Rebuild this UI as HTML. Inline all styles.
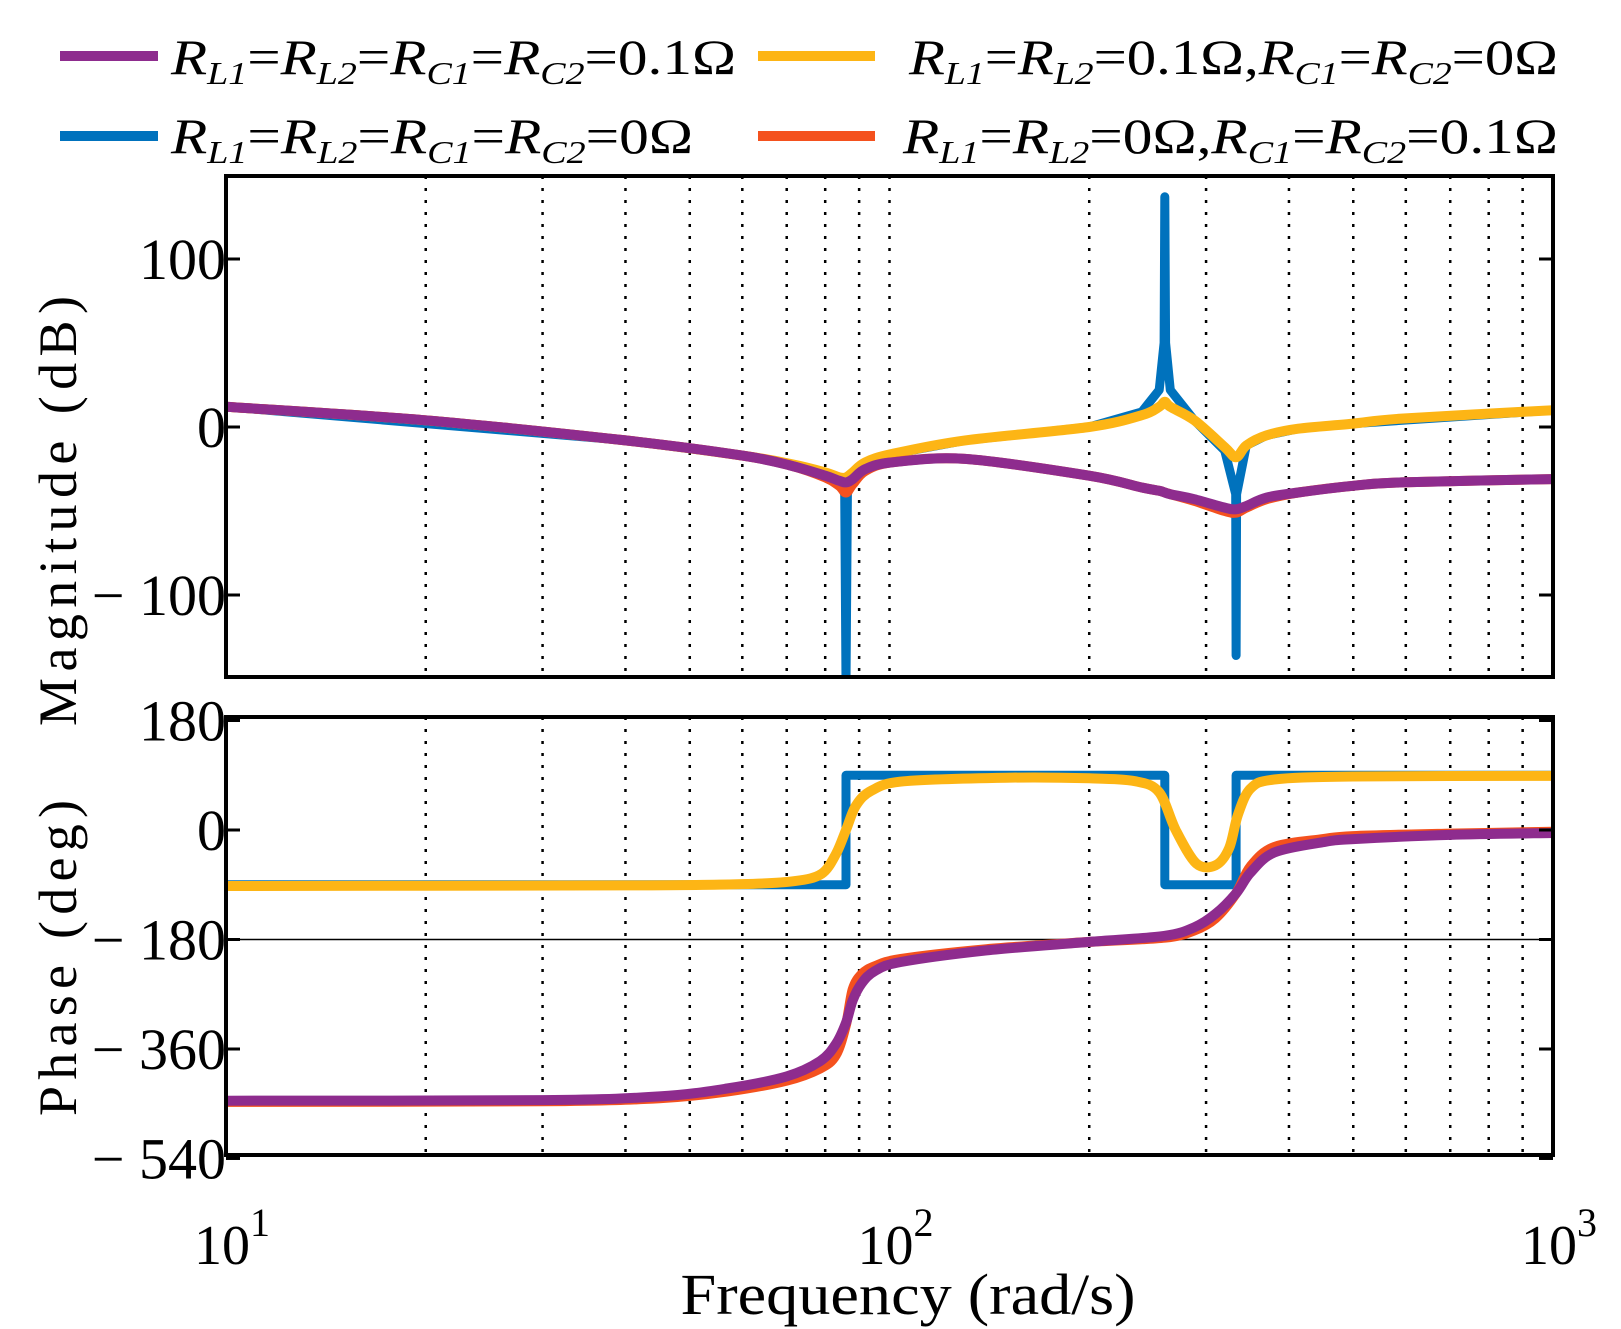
<!DOCTYPE html>
<html><head><meta charset="utf-8">
<style>
html,body{margin:0;padding:0;background:#fff;}
svg{display:block;font-family:"Liberation Serif",serif;}
</style></head>
<body>
<svg id="chart" width="1621" height="1329" viewBox="0 0 1621 1329" xmlns="http://www.w3.org/2000/svg">
<defs>
<clipPath id="clipMag"><rect x="226" y="176" width="1327" height="501"/></clipPath>
<clipPath id="clipPh"><rect x="226" y="717" width="1327" height="438"/></clipPath>
</defs>
<g id="legend" font-size="50">
  <g>
    <line x1="60" y1="56" x2="158" y2="56" stroke="#8e2c8e" stroke-width="10"/>
    <text x="171" y="74" textLength="565" lengthAdjust="spacingAndGlyphs"><tspan font-style="italic">R</tspan><tspan font-size="32" font-style="italic" dy="10">L1</tspan><tspan dy="-10">=</tspan><tspan font-style="italic">R</tspan><tspan font-size="32" font-style="italic" dy="10">L2</tspan><tspan dy="-10">=</tspan><tspan font-style="italic">R</tspan><tspan font-size="32" font-style="italic" dy="10">C1</tspan><tspan dy="-10">=</tspan><tspan font-style="italic">R</tspan><tspan font-size="32" font-style="italic" dy="10">C2</tspan><tspan dy="-10">=0.1Ω</tspan></text>
  </g>
  <g>
    <line x1="60" y1="136" x2="158" y2="136" stroke="#0072bd" stroke-width="10"/>
    <text x="171" y="153" textLength="522" lengthAdjust="spacingAndGlyphs"><tspan font-style="italic">R</tspan><tspan font-size="32" font-style="italic" dy="10">L1</tspan><tspan dy="-10">=</tspan><tspan font-style="italic">R</tspan><tspan font-size="32" font-style="italic" dy="10">L2</tspan><tspan dy="-10">=</tspan><tspan font-style="italic">R</tspan><tspan font-size="32" font-style="italic" dy="10">C1</tspan><tspan dy="-10">=</tspan><tspan font-style="italic">R</tspan><tspan font-size="32" font-style="italic" dy="10">C2</tspan><tspan dy="-10">=0Ω</tspan></text>
  </g>
  <g>
    <line x1="758" y1="56" x2="875" y2="56" stroke="#fdb515" stroke-width="10"/>
    <text x="909" y="74" textLength="649" lengthAdjust="spacingAndGlyphs"><tspan font-style="italic">R</tspan><tspan font-size="32" font-style="italic" dy="10">L1</tspan><tspan dy="-10">=</tspan><tspan font-style="italic">R</tspan><tspan font-size="32" font-style="italic" dy="10">L2</tspan><tspan dy="-10">=0.1Ω,</tspan><tspan font-style="italic">R</tspan><tspan font-size="32" font-style="italic" dy="10">C1</tspan><tspan dy="-10">=</tspan><tspan font-style="italic">R</tspan><tspan font-size="32" font-style="italic" dy="10">C2</tspan><tspan dy="-10">=0Ω</tspan></text>
  </g>
  <g>
    <line x1="758" y1="136" x2="875" y2="136" stroke="#f4511e" stroke-width="10"/>
    <text x="903" y="153" textLength="655" lengthAdjust="spacingAndGlyphs"><tspan font-style="italic">R</tspan><tspan font-size="32" font-style="italic" dy="10">L1</tspan><tspan dy="-10">=</tspan><tspan font-style="italic">R</tspan><tspan font-size="32" font-style="italic" dy="10">L2</tspan><tspan dy="-10">=0Ω,</tspan><tspan font-style="italic">R</tspan><tspan font-size="32" font-style="italic" dy="10">C1</tspan><tspan dy="-10">=</tspan><tspan font-style="italic">R</tspan><tspan font-size="32" font-style="italic" dy="10">C2</tspan><tspan dy="-10">=0.1Ω</tspan></text>
  </g>
</g>
<g id="grid"></g>
<g id="magSeries" clip-path="url(#clipMag)"></g>
<g id="phSeries" clip-path="url(#clipPh)"></g>
<g id="axes"></g>
<text transform="translate(76,511) rotate(-90)" text-anchor="middle" font-size="54" textLength="430" lengthAdjust="spacing">Magnitude (dB)</text>
<text transform="translate(76,958) rotate(-90)" text-anchor="middle" font-size="54" textLength="316" lengthAdjust="spacing">Phase (deg)</text>
<text x="908" y="1314" text-anchor="middle" font-size="58" textLength="455" lengthAdjust="spacingAndGlyphs">Frequency  (rad/s)</text>
<script>
const freqMag = [10, 20, 40, 60, 71, 80, 84, 86, 88, 92, 101, 130, 200, 240, 255, 260, 265, 288, 320, 333, 345, 370, 413, 500, 591, 1000];
const magPurple = [12, 4, -8, -17, -23, -29, -32, -33, -31, -25, -21, -19, -29, -36, -38, -39, -40, -43, -48, -49, -47, -42, -39, -35, -33, -31];
const magOrange = [12, 4, -8, -17, -23, -30, -35, -39, -34, -26, -21, -19, -29, -36, -38, -39, -40, -44, -50, -51, -48, -43, -39, -35, -33, -31];
const magYellow = [12, 4, -8, -17, -22, -27, -30, -30, -27, -21, -16, -8, 0, 7, 12, 15, 12, 4, -12, -18, -11, -5, -1, 2, 5, 10];
const freqBlue = [10, 40, 60, 71, 80, 84, 85.6, 86, 86.4, 88, 92, 101, 130, 200, 240, 255, 259.3, 260, 260.7, 265, 288, 320, 332.5, 333, 333.5, 345, 370, 413, 500, 1000];
const magBlue = [12, -8, -17, -22, -27, -31, -40, -152, -40, -27, -21, -16, -8, 0, 9, 22, 50, 137, 50, 22, 4, -14, -40, -136, -40, -11, -5, -1, 2, 10];

const freqPh = [10, 30, 45, 56.9, 70, 78.6, 83, 86, 88, 90.8, 95, 104, 140, 200, 260, 288, 310, 333, 350, 380, 450, 500, 700, 1000];
const phPurple = [-445, -444, -438, -425, -405, -380, -352, -317, -280, -252, -232, -217, -198, -184, -174, -160, -138, -104, -70, -37, -20, -15, -8, -5];
const phOrange = [-447, -446, -441, -430, -412, -392, -370, -320, -262, -237, -224, -212, -196, -184, -177, -165, -145, -104, -60, -28, -15, -10, -6, -3];
const freqYel = [10, 40, 60, 72, 79, 83, 86, 89, 94, 105, 150, 200, 235, 255, 270, 290, 310, 325, 335, 350, 380, 500, 1000];
const phYellow = [-92, -91, -89, -84, -72, -40, 0, 40, 65, 80, 86, 85, 80, 62, 0, -55, -58, -30, 25, 68, 83, 88, 89];
const freqStep = [10, 86, 86, 260, 260, 333, 333, 1000];
const phBlue = [-90, -90, 90, 90, -90, -90, 90, 90];

const magTicks = [100, 0, -100];
const magTickLabels = ["100", "0", "− 100"];
const phTicks = [180, 0, -180, -360, -540];
const phTickLabels = ["180", "0", "− 180", "− 360", "− 540"];
const xDecades = [1, 2, 3];

const NS = "http://www.w3.org/2000/svg";
const X0 = 226, X1 = 1553, DEC = (X1 - X0) / 2;
function xs(f) { return X0 + (Math.log10(f) - 1) * DEC; }
function ym(db) { return 427 - db * 1.68; }
function yp(p) { return 830 - p * 0.6083; }
function mk(tag, attrs, parent) {
  const e = document.createElementNS(NS, tag);
  for (const k in attrs) e.setAttribute(k, attrs[k]);
  parent.appendChild(e);
  return e;
}
const grid = document.getElementById('grid');
const axes = document.getElementById('axes');
const panels = [[176, 677], [717, 1155]];
for (let d = 1; d <= 2; d++) {
  for (let m = 2; m <= 10; m++) {
    const x = xs(m * Math.pow(10, d));
    if (m === 10 && d === 2) continue;
    for (const [t, b] of panels) {
      const l = mk('line', {x1: x, x2: x, y1: t, y2: b, stroke: '#000', 'stroke-width': 2.5, 'stroke-dasharray': '3 9'}, grid);
      
      
    }
  }
}
const hg = mk('line', {x1: X0, x2: X1, y1: yp(-180), y2: yp(-180), stroke: '#000', 'stroke-width': 1.5}, grid);



function smoothPath(P) {
  let d = 'M' + P[0][0].toFixed(1) + ',' + P[0][1].toFixed(1);
  for (let i = 0; i < P.length - 1; i++) {
    const p0 = P[Math.max(0, i - 1)], p1 = P[i], p2 = P[i + 1], p3 = P[Math.min(P.length - 1, i + 2)];
    const t = 0.16;
    let c1x = p1[0] + (p2[0] - p0[0]) * t, c1y = p1[1] + (p2[1] - p0[1]) * t;
    let c2x = p2[0] - (p3[0] - p1[0]) * t, c2y = p2[1] - (p3[1] - p1[1]) * t;
    c1x = Math.min(Math.max(c1x, p1[0]), p2[0]);
    c2x = Math.min(Math.max(c2x, p1[0]), p2[0]);
    d += ' C' + c1x.toFixed(1) + ',' + c1y.toFixed(1) + ' ' + c2x.toFixed(1) + ',' + c2y.toFixed(1) + ' ' + p2[0].toFixed(1) + ',' + p2[1].toFixed(1);
  }
  return d;
}
function curve(fs, vs, yf, color, parent, name, w, smooth) {
  const P = fs.map((f, i) => [xs(f), yf(vs[i])]);
  const d = smooth ? smoothPath(P) : 'M' + P.map(p => p[0].toFixed(1) + ',' + p[1].toFixed(1)).join(' L');
  const p = mk('path', {d: d, fill: 'none', stroke: color, 'stroke-width': w, 'stroke-linejoin': 'round', 'stroke-linecap': 'round'}, parent);
  
  
}
const mg = document.getElementById('magSeries');
curve(freqBlue, magBlue, ym, '#0072bd', mg, 'mag-all-0', 9, false);
curve(freqMag, magYellow, ym, '#fdb515', mg, 'mag-rl-0.1', 10, true);
curve(freqMag, magOrange, ym, '#f4511e', mg, 'mag-rc-0.1', 10, true);
curve(freqMag, magPurple, ym, '#8e2c8e', mg, 'mag-all-0.1', 10, true);
const pg = document.getElementById('phSeries');
curve(freqStep, phBlue, yp, '#0072bd', pg, 'phase-all-0', 9, false);
curve(freqYel, phYellow, yp, '#fdb515', pg, 'phase-rl-0.1', 10, true);
curve(freqPh, phOrange, yp, '#f4511e', pg, 'phase-rc-0.1', 10, true);
curve(freqPh, phPurple, yp, '#8e2c8e', pg, 'phase-all-0.1', 10, true);

for (const [t, b] of panels) {
  const r = mk('rect', {x: X0, y: t, width: X1 - X0, height: b - t, fill: 'none', stroke: '#000', 'stroke-width': 4}, axes);
  
  
}
magTicks.forEach((v, i) => {
  const y = ym(v);
  mk('line', {x1: X0, x2: X0 + 14, y1: y, y2: y, stroke: '#000', 'stroke-width': 3}, axes);
  mk('line', {x1: X1, x2: X1 - 14, y1: y, y2: y, stroke: '#000', 'stroke-width': 3}, axes);
  const t = mk('text', {x: 226, y: y + 20, 'text-anchor': 'end', 'font-size': 58}, axes);
  t.textContent = magTickLabels[i];
  
  
});
phTicks.forEach((v, i) => {
  const y = yp(v);
  mk('line', {x1: X0, x2: X0 + 14, y1: y, y2: y, stroke: '#000', 'stroke-width': 3}, axes);
  mk('line', {x1: X1, x2: X1 - 14, y1: y, y2: y, stroke: '#000', 'stroke-width': 3}, axes);
  const t = mk('text', {x: 226, y: y + 20, 'text-anchor': 'end', 'font-size': 58}, axes);
  t.textContent = phTickLabels[i];
  
  
});
xDecades.forEach(d => {
  const x = xs(Math.pow(10, d));
  const t = mk('text', {x: x - 32, y: 1264, 'font-size': 56}, axes);
  
  
  const a = mk('tspan', {}, t); a.textContent = '10';
  const b = mk('tspan', {dy: -28, 'font-size': 40}, t); b.textContent = String(d);
});
</script>
</svg>
</body></html>
